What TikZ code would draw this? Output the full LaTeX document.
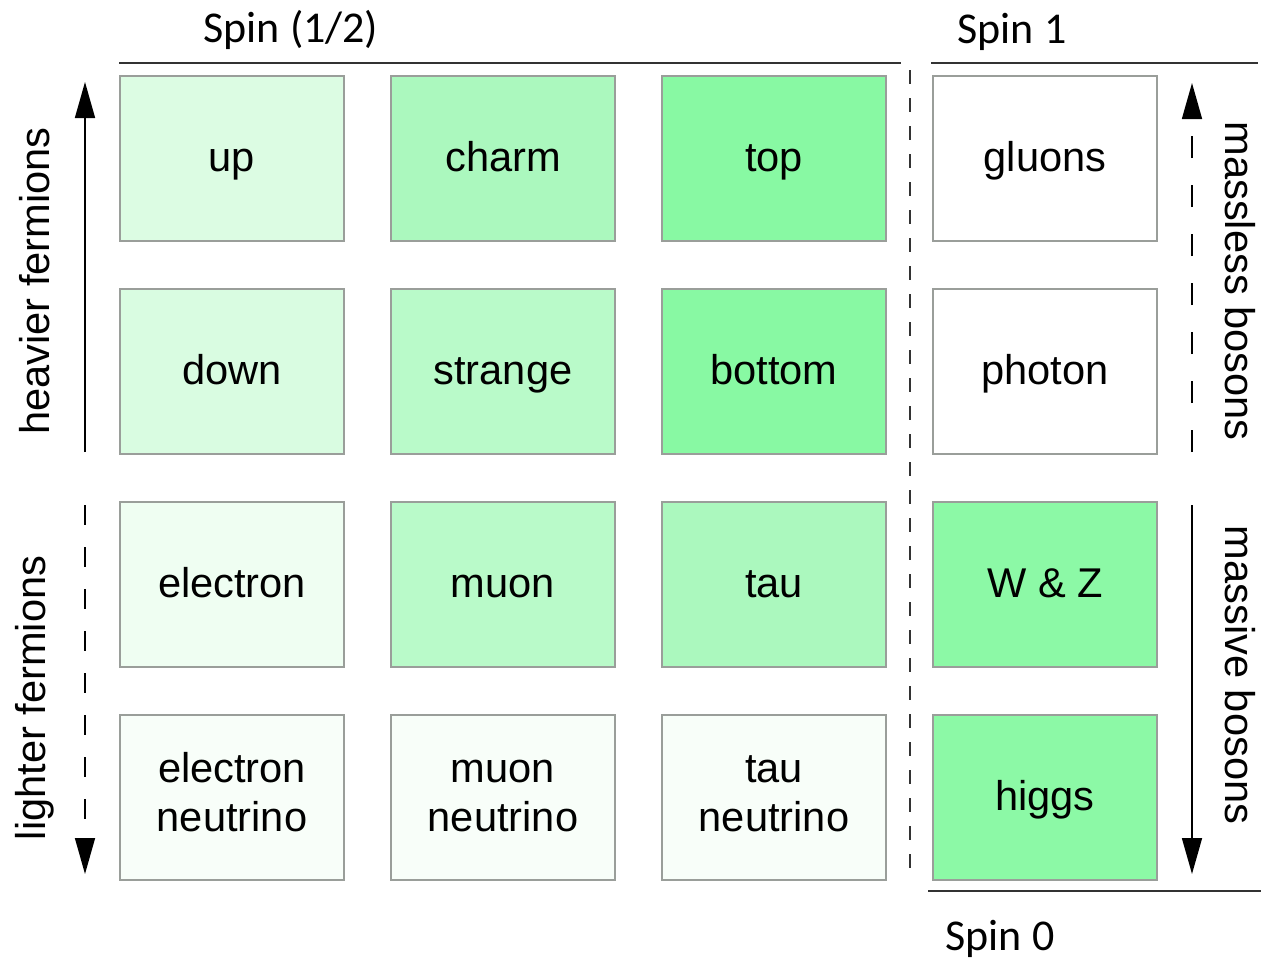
\documentclass[tikz,border=0pt]{standalone}
\usepackage{fontspec}
\setmainfont{Liberation Sans}
\newfontfamily\spinfont{Carlito}
\usetikzlibrary{arrows.meta}
\newcommand\bstrut{\rule[-11.2pt]{0pt}{49pt}}
\definecolor{boxgray}{HTML}{9A9E9A}
\definecolor{linedark}{HTML}{333333}
\definecolor{gA}{HTML}{DCFCE3}
\definecolor{gB}{HTML}{D9FCE1}
\definecolor{gE}{HTML}{EFFEF2}
\definecolor{gN}{HTML}{F8FEF9}
\definecolor{gC}{HTML}{ABF8BE}
\definecolor{gS}{HTML}{B9FAC9}
\definecolor{gT}{HTML}{88F9A3}
\definecolor{gW}{HTML}{8CF9A6}
\begin{document}
\begin{tikzpicture}[x=1pt,y=-1pt,
  pbox/.style={draw=boxgray, line width=1.8pt, minimum width=224pt, minimum height=165pt,
    inner sep=0pt, align=center, font=\fontsize{41.6}{49}\selectfont},
  sidelabel/.style={font=\fontsize{41.6}{49}\selectfont, inner sep=0pt},
  spinlabel/.style={font=\spinfont\fontsize{44}{50}\selectfont, inner sep=0pt},
  rule/.style={draw=linedark, line width=2pt},
  arr/.style={line width=1.6pt, -{Triangle[length=36pt,width=20pt]}},
]
\useasboundingbox (0,0) rectangle (1261,962);
\fill[white] (0,0) rectangle (1261,962);

% boxes
\node[pbox, fill=gA] (up) at (232,158.5) {\bstrut up};
\node[pbox, fill=gC] (charm) at (503,158.5) {\bstrut charm};
\node[pbox, fill=gT] (top) at (774,158.5) {\bstrut top};
\node[pbox, fill=white] (gluons) at (1045,158.5) {\bstrut gluons};

\node[pbox, fill=gB] (down) at (232,371.5) {\bstrut down};
\node[pbox, fill=gS] (strange) at (503,371.5) {\bstrut strange};
\node[pbox, fill=gT] (bottom) at (774,371.5) {\bstrut bottom};
\node[pbox, fill=white] (photon) at (1045,371.5) {\bstrut photon};

\node[pbox, fill=gE] (electron) at (232,584.5) {\bstrut electron};
\node[pbox, fill=gS] (muon) at (503,584.5) {\bstrut muon};
\node[pbox, fill=gC] (tau) at (774,584.5) {\bstrut tau};
\node[pbox, fill=gW] (wz) at (1045,584.5) {\bstrut W \& Z};

\node[pbox, fill=gN] (enu) at (232,797.5) {\strut electron\\\strut neutrino};
\node[pbox, fill=gN] (mnu) at (503,797.5) {\strut muon\\\strut neutrino};
\node[pbox, fill=gN] (tnu) at (774,797.5) {\strut tau\\\strut neutrino};
\node[pbox, fill=gW] (higgs) at (1045,797.5) {\bstrut higgs};

% spin labels and rules
\node[spinlabel] (s12) at (291,30) {Spin (1/2)};
\node[spinlabel] (s1) at (1012,32) {Spin 1};
\node[spinlabel] (s0) at (1000,939) {Spin 0};
\coordinate (r1a) at (119,63); \coordinate (r1b) at (901,63);
\coordinate (r2a) at (931,63); \coordinate (r2b) at (1258,63);
\coordinate (r3a) at (928,891); \coordinate (r3b) at (1261,891);
\draw[rule] (r1a) -- (r1b);
\draw[rule] (r2a) -- (r2b);
\draw[rule] (r3a) -- (r3b);

% central dashed divider
\coordinate (da) at (910,70); \coordinate (db) at (910,882);
\draw[draw=linedark, line width=1.6pt, dash pattern=on 14pt off 14pt] (da) -- (db);

% left arrows
\coordinate (ha) at (85,452); \coordinate (hb) at (85,82);
\draw[arr] (ha) -- (hb);
\coordinate (la) at (85,505); \coordinate (lb) at (85,874);
\draw[arr, dash pattern=on 20pt off 22pt] (la) -- (lb);
\node[sidelabel, rotate=90] (heavy) at (35,281) {heavier fermions};
\node[sidelabel, rotate=90] (light) at (35,698) {lighter fermions};

% right arrows
\coordinate (ma) at (1192,452); \coordinate (mb) at (1192,83);
\draw[arr, dash pattern=on 22pt off 27pt] (ma) -- (mb);
\coordinate (va) at (1192,505); \coordinate (vb) at (1192,874);
\draw[arr] (va) -- (vb);
\node[sidelabel, rotate=-90] (massless) at (1240,281) {massless bosons};
\node[sidelabel, rotate=-90] (massive) at (1240,675) {massive bosons};
\end{tikzpicture}
\end{document}
